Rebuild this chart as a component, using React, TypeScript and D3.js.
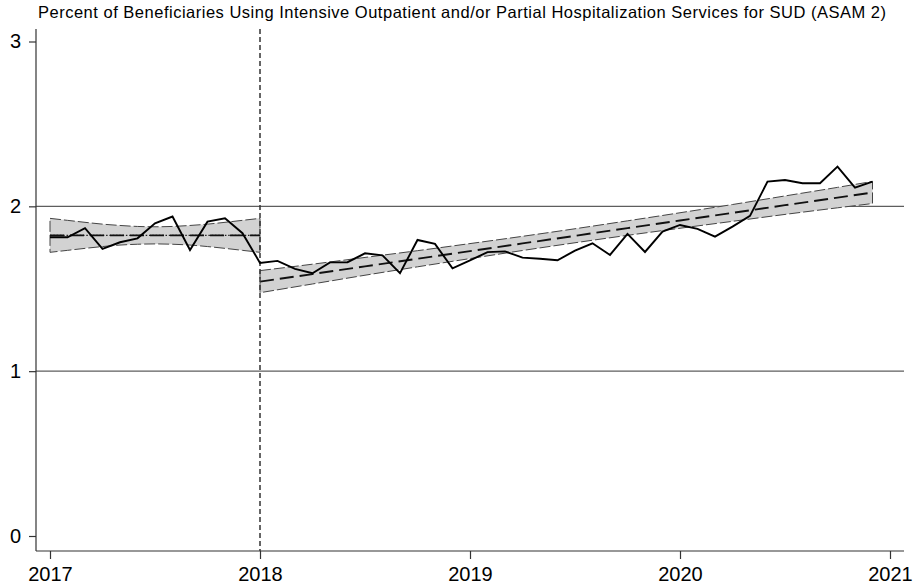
import React, { useEffect, useRef } from "react";
import * as d3 from "d3";

const title =
  "Percent of Beneficiaries Using Intensive Outpatient and/or Partial Hospitalization Services for SUD (ASAM 2)";
const xTickYears = [2017, 2018, 2019, 2020, 2021];
const yTickValues = [0, 1, 2, 3];
const gridValues = [1, 2];
const interventionYear = 2018;

// monthly observed percent, Jan 2017 .. Dec 2020
const startYear = 2017;
const preValues = [
  1.812, 1.812, 1.867, 1.742, 1.782, 1.806, 1.897, 1.938, 1.735, 1.907, 1.928, 1.837,
];
const postValues = [
  1.657, 1.669, 1.62, 1.594, 1.66, 1.661, 1.715, 1.703, 1.594, 1.796, 1.772, 1.624,
  1.672, 1.722, 1.727, 1.689, 1.682, 1.673, 1.731, 1.776, 1.705, 1.833, 1.723, 1.847,
  1.887, 1.863, 1.816, 1.877, 1.942, 2.15, 2.16, 2.14, 2.14, 2.241, 2.114, 2.15,
];

// pre-period fit with confidence band (months since Jan 2017)
const preBandMonths = [0, 1, 2, 3, 4, 5, 6, 7, 8, 9, 10, 11, 12];
const preFit = [1.824, 1.824, 1.824, 1.824, 1.824, 1.824, 1.824, 1.824, 1.824, 1.824, 1.824, 1.824, 1.824];
const preLower = [1.721, 1.733, 1.745, 1.756, 1.765, 1.77, 1.772, 1.77, 1.765, 1.756, 1.745, 1.733, 1.721];
const preUpper = [1.927, 1.915, 1.903, 1.892, 1.884, 1.878, 1.876, 1.878, 1.884, 1.892, 1.903, 1.915, 1.927];

// post-period fit with confidence band
const postBandMonths = [12, 15, 18, 21, 24, 27, 30, 33, 36, 39, 42, 45, 47];
const postFit = [1.543, 1.589, 1.636, 1.682, 1.728, 1.775, 1.821, 1.868, 1.914, 1.96, 2.007, 2.053, 2.084];
const postLower = [1.476, 1.529, 1.582, 1.633, 1.683, 1.732, 1.779, 1.824, 1.867, 1.909, 1.951, 1.991, 2.017];
const postUpper = [1.61, 1.649, 1.69, 1.731, 1.774, 1.818, 1.864, 1.912, 1.961, 2.011, 2.063, 2.115, 2.151];

const W = 915;
const H = 587;
const font = "'Liberation Sans', Arial, Helvetica, sans-serif";

export default function App() {
  const ref = useRef<SVGSVGElement>(null);

  useEffect(() => {
    const svg = d3.select(ref.current);
    svg.selectAll("*").remove();

    const axisX = 36,
      axisY = 551,
      plotTop = 29,
      plotRight = 904;

    const x = d3.scaleLinear().domain([2017, 2021]).range([50, 890]);
    const y = d3.scaleLinear().domain([0, 3]).range([536, 41.5]);
    const toYear = (m: number) => startYear + m / 12;

    svg.append("rect").attr("width", W).attr("height", H).attr("fill", "#fff");

    // grid lines
    svg
      .append("g")
      .selectAll("line")
      .data(gridValues)
      .join("line")
      .attr("x1", axisX)
      .attr("x2", plotRight)
      .attr("y1", (d) => y(d))
      .attr("y2", (d) => y(d))
      .attr("stroke", "#5e5e5e")
      .attr("stroke-width", 1.1);

    const bands = [
      { months: preBandMonths, fit: preFit, lo: preLower, hi: preUpper },
      { months: postBandMonths, fit: postFit, lo: postLower, hi: postUpper },
    ].map((b) =>
      b.months.map((m, i) => ({ t: toYear(m), fit: b.fit[i], lo: b.lo[i], hi: b.hi[i] }))
    );

    type Row = { t: number; fit: number; lo: number; hi: number };
    const area = d3
      .area<Row>()
      .x((d) => x(d.t))
      .y0((d) => y(d.lo))
      .y1((d) => y(d.hi))
      .curve(d3.curveMonotoneX);
    const fitLine = d3
      .line<Row>()
      .x((d) => x(d.t))
      .y((d) => y(d.fit));

    bands.forEach((rows) => {
      svg
        .append("path")
        .attr("d", area(rows))
        .attr("fill", "#d2d2d2")
        .attr("stroke", "#444")
        .attr("stroke-width", 1)
        .attr("stroke-dasharray", "11,3");
    });

    // dotted line under the pre fit
    svg
      .append("path")
      .attr("d", fitLine(bands[0]))
      .attr("fill", "none")
      .attr("stroke", "#222")
      .attr("stroke-width", 1.2)
      .attr("stroke-dasharray", "1.5,1.8");

    bands.forEach((rows) => {
      svg
        .append("path")
        .attr("d", fitLine(rows))
        .attr("fill", "none")
        .attr("stroke", "#111")
        .attr("stroke-width", 1.9)
        .attr("stroke-dasharray", "14,6");
    });

    // intervention line
    svg
      .append("line")
      .attr("x1", x(interventionYear))
      .attr("x2", x(interventionYear))
      .attr("y1", plotTop)
      .attr("y2", axisY)
      .attr("stroke", "#333")
      .attr("stroke-width", 1.5)
      .attr("stroke-dasharray", "5,3");

    // observed series
    const series = preValues.concat(postValues).map((v, i) => ({ t: toYear(i), v }));
    svg
      .append("path")
      .attr(
        "d",
        d3
          .line<{ t: number; v: number }>()
          .x((d) => x(d.t))
          .y((d) => y(d.v))(series)
      )
      .attr("fill", "none")
      .attr("stroke", "#000")
      .attr("stroke-width", 1.9)
      .attr("stroke-linejoin", "miter");

    // axes
    const yAxis = svg
      .append("g")
      .attr("transform", `translate(${axisX},0)`)
      .call(
        d3
          .axisLeft(y)
          .tickValues(yTickValues)
          .tickSize(7)
          .tickPadding(8)
          .tickFormat(d3.format("d"))
      );
    const xAxis = svg
      .append("g")
      .attr("transform", `translate(0,${axisY})`)
      .call(
        d3
          .axisBottom(x)
          .tickValues(xTickYears)
          .tickSize(8)
          .tickPadding(8)
          .tickFormat(d3.format("d"))
      );
    [yAxis, xAxis].forEach((g) => {
      g.select(".domain").remove();
      g.selectAll("line").attr("stroke", "#333").attr("stroke-width", 1.2);
      g.selectAll("text").attr("font-size", 20).attr("font-family", font).attr("fill", "#000");
    });

    svg
      .append("line")
      .attr("x1", axisX)
      .attr("x2", axisX)
      .attr("y1", plotTop)
      .attr("y2", axisY)
      .attr("stroke", "#333")
      .attr("stroke-width", 1.2);
    svg
      .append("line")
      .attr("x1", axisX)
      .attr("x2", plotRight)
      .attr("y1", axisY)
      .attr("y2", axisY)
      .attr("stroke", "#333")
      .attr("stroke-width", 1.2);

    svg
      .append("text")
      .attr("x", 462)
      .attr("y", 18)
      .attr("text-anchor", "middle")
      .attr("font-family", font)
      .attr("font-size", 16.5)
      .attr("textLength", 848)
      .attr("lengthAdjust", "spacing")
      .attr("fill", "#000")
      .text(title);
  }, []);

  return (
    <svg
      ref={ref}
      width={W}
      height={H}
      style={{ position: "absolute", left: 0, top: 0, display: "block" }}
    />
  );
}
